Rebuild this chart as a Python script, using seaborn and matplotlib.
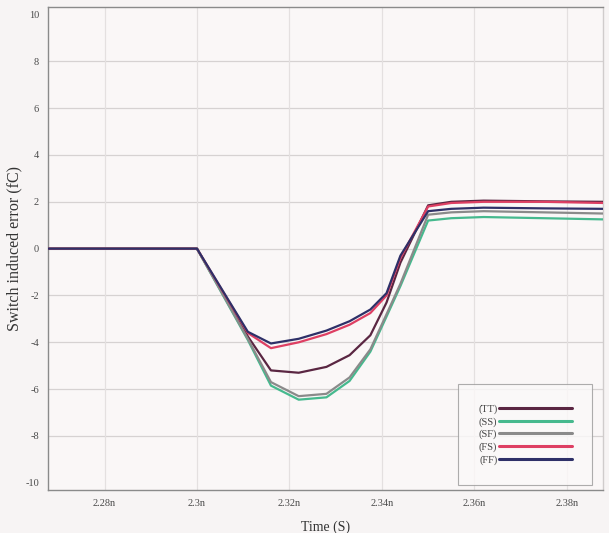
import numpy as np
import pandas as pd
import seaborn as sns
import matplotlib.pyplot as plt
from matplotlib.ticker import MultipleLocator, FixedLocator

# Simulated switch-induced charge error for each process corner
time_ns = [2.2678, 2.300, 2.311, 2.316, 2.322, 2.328, 2.333, 2.3375, 2.341,
           2.344, 2.350, 2.355, 2.362, 2.375, 2.3878]
err_tt = [0, 0, -3.75, -5.2, -5.3, -5.05, -4.55, -3.7, -2.3, -0.6, 1.85, 2.0, 2.05, 2.02, 2.0]
err_ss = [0, 0, -3.9, -5.85, -6.45, -6.35, -5.65, -4.4, -2.9, -1.6, 1.2, 1.3, 1.35, 1.3, 1.25]
err_sf = [0, 0, -3.85, -5.7, -6.3, -6.2, -5.5, -4.3, -2.8, -1.5, 1.45, 1.55, 1.6, 1.55, 1.5]
err_fs = [0, 0, -3.6, -4.25, -4.0, -3.65, -3.25, -2.75, -2.0, -0.4, 1.8, 1.95, 2.0, 2.0, 1.95]
err_ff = [0, 0, -3.55, -4.05, -3.85, -3.5, -3.1, -2.6, -1.9, -0.3, 1.6, 1.7, 1.75, 1.72, 1.7]

corners = ["(TT)", "(SS)", "(SF)", "(FS)", "(FF)"]
series = [err_tt, err_ss, err_sf, err_fs, err_ff]
colors = ["#5a2642", "#46b98e", "#8a8a8a", "#de3f63", "#2e3068"]

xticks = [2.28, 2.30, 2.32, 2.34, 2.36, 2.38]
xtick_labels = ["2.28n", "2.3n", "2.32n", "2.34n", "2.36n", "2.38n"]
yticks = [10, 8, 6, 4, 2, 0, -2, -4, -6, -8, -10]

df = pd.concat(
    [pd.DataFrame({"t": time_ns, "err": vals, "corner": c}) for c, vals in zip(corners, series)],
    ignore_index=True,
)

sns.set_theme(style="white")
plt.rcParams["font.family"] = ["Liberation Serif", "DejaVu Serif"]

bg = "#f7f4f4"
fig = plt.figure(figsize=(6.09, 5.33), dpi=100, facecolor=bg)
ax = fig.add_axes([0.079, 0.081, 0.911, 0.905], facecolor="#faf7f7")

# Grid first so curves sit on top
for y in yticks[1:-1]:
    ax.axhline(y, color="#d6d2d2", lw=0.9, zorder=0)
for x in xticks:
    ax.axvline(x, color="#e4e0e0", lw=0.9, zorder=0)

sns.lineplot(data=df, x="t", y="err", hue="corner", hue_order=corners,
             palette=dict(zip(corners, colors)), linewidth=1.6, ax=ax,
             legend=True, zorder=3)

ax.set_xlim(2.2678, 2.3878)
ax.set_ylim(-10.3, 10.3)
ax.xaxis.set_major_locator(FixedLocator(xticks))
ax.set_xticklabels(xtick_labels)
ax.xaxis.set_minor_locator(MultipleLocator(0.005))
ax.yaxis.set_major_locator(FixedLocator(yticks))
ax.set_yticklabels([str(v) for v in yticks])
ax.yaxis.set_minor_locator(MultipleLocator(0.5))

ax.tick_params(axis="both", which="major", labelsize=7.5, colors="#777777",
               labelcolor="#4a4a4a", length=3, width=0.8, direction="out")
ax.tick_params(axis="both", which="minor", colors="#999999", length=1.5, width=0.6,
               direction="out")

for side, sp in ax.spines.items():
    sp.set_color("#8a8a8a")
    sp.set_linewidth(1.0)
ax.spines["right"].set_color("#d0cccc")

ax.set_ylabel("Switch induced error (fC)", fontsize=11.5, color="#333333", labelpad=2)
ax.set_xlabel("Time (S)", fontsize=10, color="#333333", labelpad=9)

leg = ax.legend(loc="lower right", bbox_to_anchor=(0.99, 0.0), frameon=True,
                fontsize=7.5, markerfirst=False, handlelength=7.0, handletextpad=0.2,
                labelspacing=0.3, borderpad=1.9, fancybox=False, title=None)
leg.get_frame().set_edgecolor("#9a9a9a")
leg.get_frame().set_facecolor("#fbf9f9")
leg.get_frame().set_linewidth(0.8)
for txt in leg.get_texts():
    txt.set_color("#444444")
for line in leg.get_lines():
    line.set_linewidth(2.2)

fig.savefig("out.png", dpi=100, facecolor=bg)
